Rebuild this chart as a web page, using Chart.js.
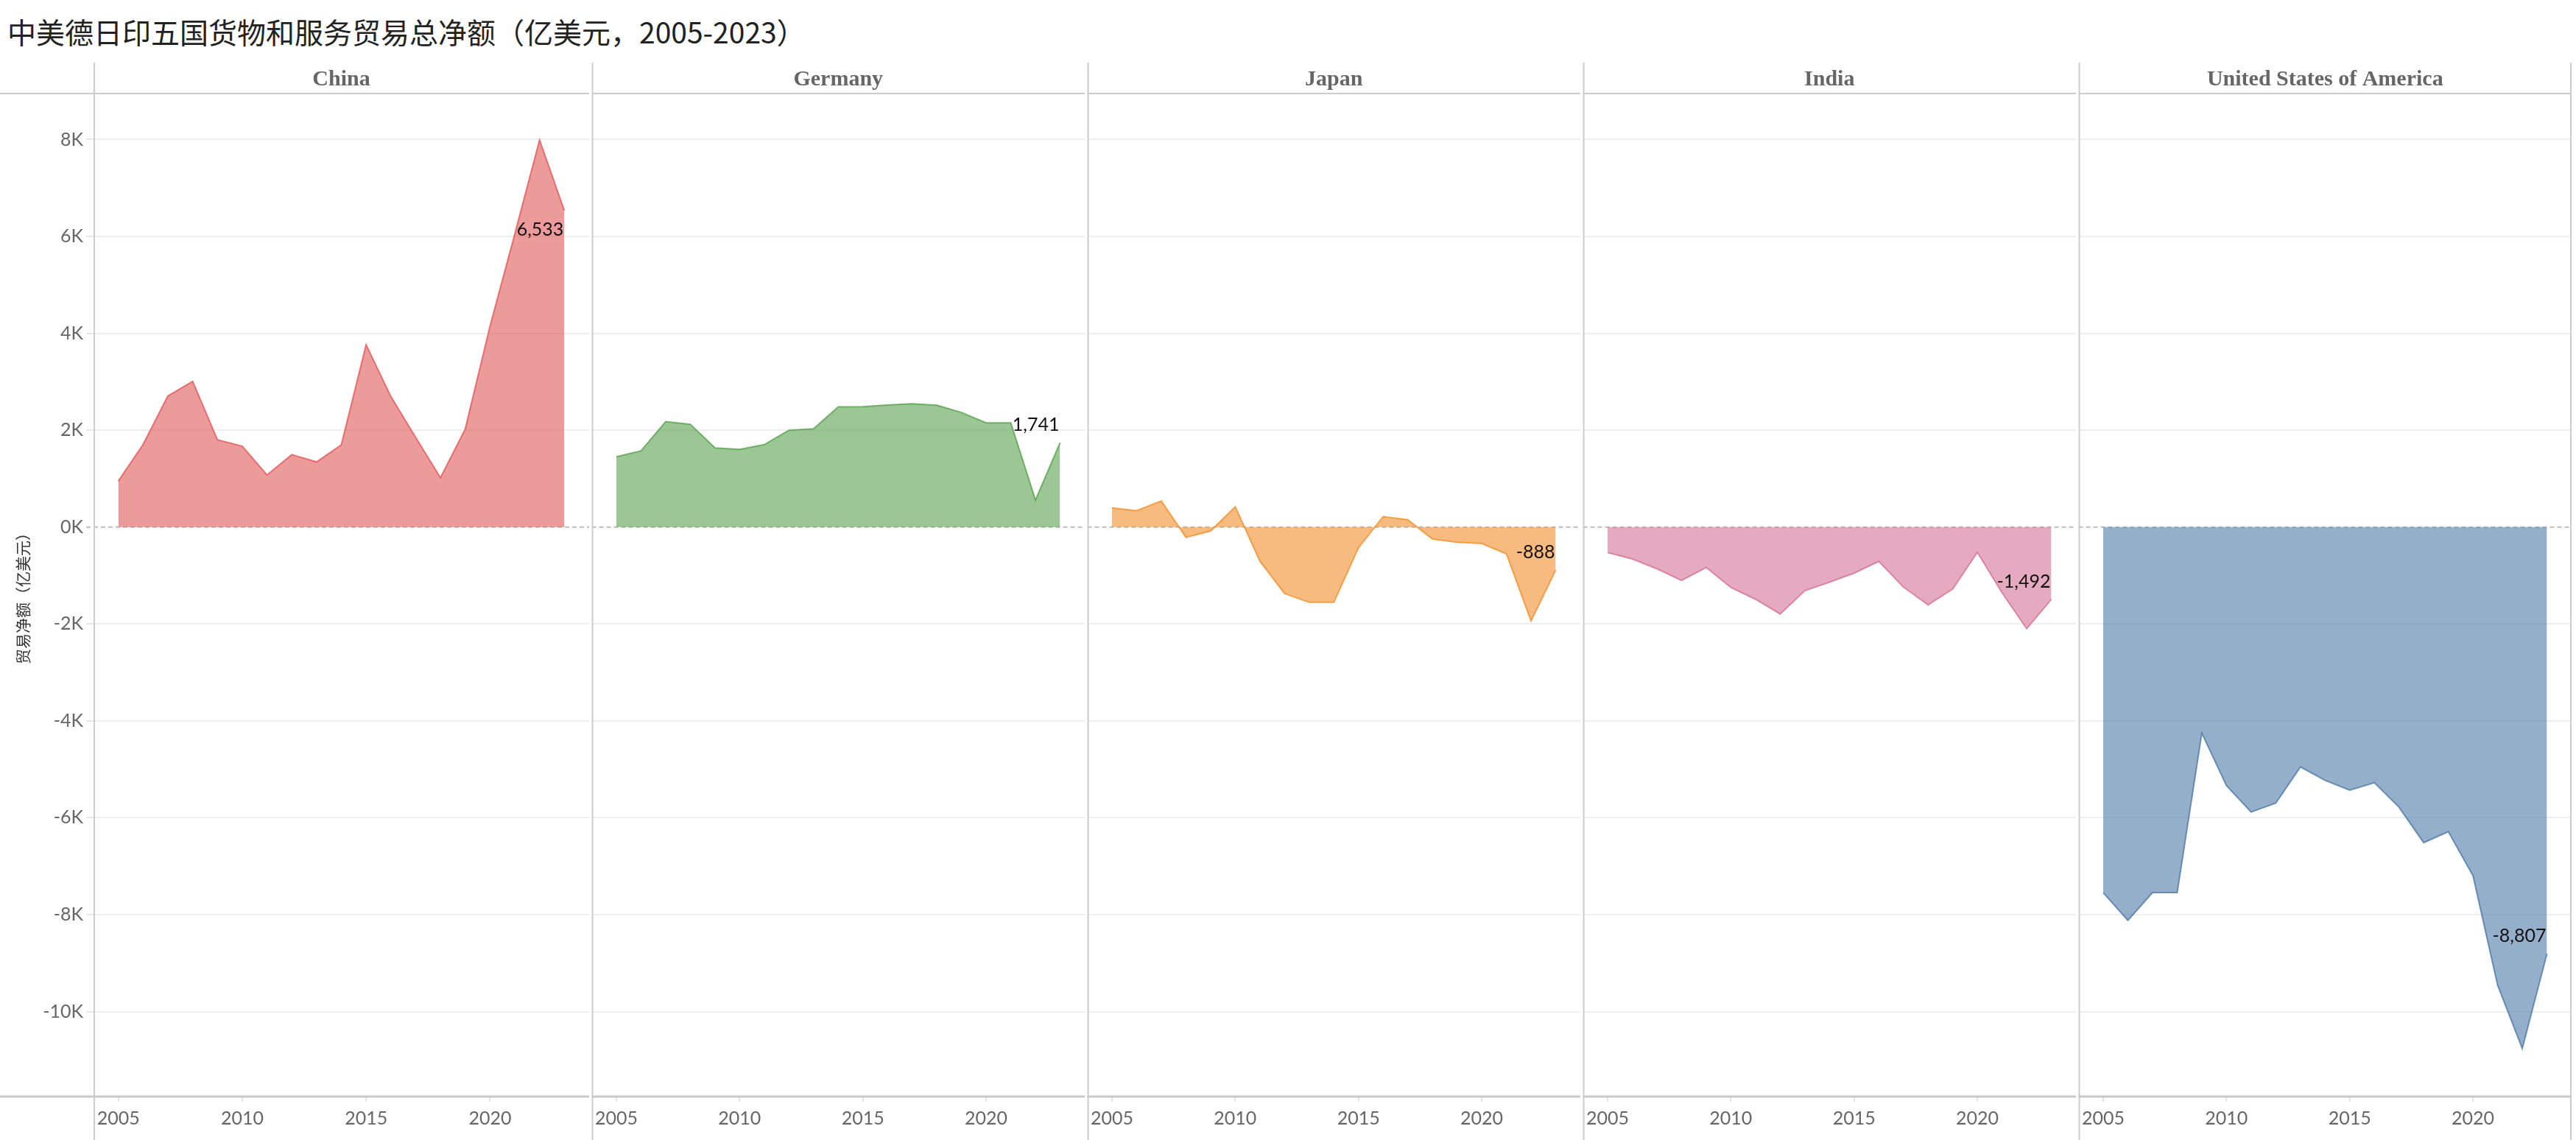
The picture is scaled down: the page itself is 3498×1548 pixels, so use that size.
<!DOCTYPE html>
<html>
<head>
<meta charset="utf-8">
<title>中美德日印五国货物和服务贸易总净额</title>
<script src="https://cdn.jsdelivr.net/npm/chart.js@4.4.1/dist/chart.umd.min.js"></script>
<style>
  body { margin: 0; background: #fff; width: 3498px; height: 1548px; overflow: hidden; position: relative; }
  #title { position: absolute; left: 10px; top: 19px; font-family: "Noto Sans CJK SC", sans-serif; font-size: 39px; line-height: 46px; color: #222; white-space: nowrap; }
  canvas { position: absolute; top: 85px; }
</style>
</head>
<body>
<div id="title">中美德日印五国货物和服务贸易总净额（亿美元，2005-2023）</div>
<canvas id="c0"></canvas>
<canvas id="c1"></canvas>
<canvas id="c2"></canvas>
<canvas id="c3"></canvas>
<canvas id="c4"></canvas>
<script>
// 数据（亿美元）
var years = [2005, 2006, 2007, 2008, 2009, 2010, 2011, 2012, 2013, 2014, 2015, 2016, 2017, 2018, 2019, 2020, 2021, 2022, 2023]
var countries = ['China', 'Germany', 'Japan', 'India', 'United States of America']
var china   = [948, 1705, 2705, 3008, 1803, 1670, 1076, 1495, 1344, 1699, 3764, 2693, 1850, 1018, 2024, 4148, 6050, 7990, 6533]
var germany = [1453, 1575, 2177, 2122, 1635, 1605, 1701, 2000, 2030, 2481, 2485, 2520, 2547, 2516, 2365, 2152, 2152, 557, 1741]
var japan   = [394, 339, 541, -212, -81, 420, -703, -1370, -1552, -1552, -425, 217, 152, -248, -313, -339, -551, -1936, -888]
var india   = [-525, -657, -859, -1101, -833, -1247, -1490, -1793, -1313, -1136, -950, -707, -1237, -1606, -1278, -520, -1354, -2096, -1492]
var usa     = [-7546, -8118, -7546, -7546, -4252, -5336, -5882, -5697, -4950, -5227, -5429, -5277, -5782, -6513, -6286, -7193, -9454, -10765, -8807]
var series = [china, germany, japan, india, usa]
var yTicks = [-10000, -8000, -6000, -4000, -2000, 0, 2000, 4000, 6000, 8000]
var xTicks = [2005, 2010, 2015, 2020]

// Tableau 配色
var palette = [[225, 87, 89], [89, 161, 79], [242, 142, 43], [211, 114, 149], [78, 121, 167]]

var PANEL_W = 673
var AXIS_W = 127
var CANVAS_H = 1463
var HEADER_H = 42
var tickFont = { family: 'Lato, "Noto Sans", sans-serif', size: 25 }

function rgba(c, a){
  return 'rgba(' + c[0] + ',' + c[1] + ',' + c[2] + ',' + a + ')'
}

// 分面框线、标题、零线和末值标签
var facetPlugin = {
  id: 'facet',
  beforeDatasetsDraw: function(chart){
    var ctx = chart.ctx, a = chart.chartArea
    var y0 = chart.scales.y.getPixelForValue(0)
    ctx.save()
    ctx.strokeStyle = '#bdbdbd'
    ctx.lineWidth = 2
    ctx.setLineDash([6, 4])
    ctx.beginPath()
    ctx.moveTo(a.left - (chart.options.plugins.facet.idx == 0 ? 10 : 0), y0)
    ctx.lineTo(a.right, y0)
    ctx.stroke()
    ctx.restore()
  },
  afterDraw: function(chart){
    var o = chart.options.plugins.facet
    var ctx = chart.ctx, a = chart.chartArea
    var x0 = o.idx == 0 ? 0 : a.left
    ctx.save()
    ctx.strokeStyle = '#cccccc'
    ctx.lineWidth = 2
    ctx.beginPath()
    ctx.moveTo(a.left + 1, 0); ctx.lineTo(a.left + 1, chart.height)
    if ( o.idx == countries.length - 1 ){
      ctx.moveTo(a.right - 1, 0); ctx.lineTo(a.right - 1, chart.height)
    }
    ctx.moveTo(x0, a.top); ctx.lineTo(a.right, a.top)
    ctx.stroke()
    ctx.lineWidth = 3
    ctx.strokeStyle = '#c8c8c8'
    ctx.beginPath()
    ctx.moveTo(x0, a.bottom + 1); ctx.lineTo(a.right, a.bottom + 1)
    ctx.stroke()

    // 国家标题
    ctx.fillStyle = '#666'
    ctx.font = 'bold 30px "Liberation Serif", "DejaVu Serif", serif'
    ctx.textAlign = 'center'
    ctx.textBaseline = 'alphabetic'
    ctx.fillText(countries[o.idx], (a.left + a.right) / 2, a.top - 11)

    // 纵轴标题
    if ( o.idx == 0 ){
      ctx.save()
      ctx.translate(31, (a.top + a.bottom) / 2)
      ctx.rotate(-Math.PI / 2)
      ctx.fillStyle = '#333'
      ctx.font = '21px "Noto Sans CJK SC", sans-serif'
      ctx.textBaseline = 'middle'
      ctx.fillText('贸易净额（亿美元）', 0, 0)
      ctx.restore()
    }

    // 末值标签
    var data = chart.data.datasets[0].data
    var pts = chart.getDatasetMeta(0).data
    var last = pts[pts.length - 1]
    var below = data[data.length - 2] > data[data.length - 1]
    ctx.fillStyle = '#111'
    ctx.font = '25px Lato, "Noto Sans", sans-serif'
    ctx.textAlign = 'right'
    ctx.textBaseline = 'middle'
    ctx.fillText(data[data.length - 1].toLocaleString('en-US'), last.x - 1, last.y + (below ? 26 : -24))
    ctx.restore()
  }
}

function makeChart(i){
  var canvas = document.getElementById('c' + i)
  var left = i == 0 ? 0 : AXIS_W + PANEL_W * i
  var width = i == 0 ? AXIS_W + PANEL_W : PANEL_W
  canvas.width = width
  canvas.height = CANVAS_H
  canvas.style.left = left + 'px'
  canvas.style.width = width + 'px'
  canvas.style.height = CANVAS_H + 'px'

  return new Chart(canvas, {
    type: 'line',
    data: {
      labels: years,
      datasets: [
        {
          label: countries[i],
          data: series[i],
          fill: 'origin',
          backgroundColor: rgba(palette[i], 0.6),
          borderColor: rgba(palette[i], 0.8),
          borderWidth: 2,
          pointRadius: 0,
          tension: 0
        }
      ]
    },
    options: {
      responsive: false,
      animation: false,
      layout: {
        padding: { top: HEADER_H, left: 0, right: 0, bottom: 0 }
      },
      plugins: {
        legend: { display: false },
        tooltip: { enabled: false },
        facet: { idx: i }
      },
      scales: {
        x: {
          type: 'linear',
          min: 2004,
          max: 2024,
          afterBuildTicks: function(scale){
            scale.ticks = xTicks.map(function(v){ return { value: v } })
          },
          afterFit: function(scale){ scale.height = 60 },
          border: { display: false },
          grid: { drawOnChartArea: false, drawTicks: true, tickLength: 8, tickColor: '#e6e6e6', lineWidth: 2 },
          ticks: {
            color: '#666',
            font: tickFont,
            padding: 8,
            maxRotation: 0,
            autoSkip: false,
            callback: function(v){ return String(v) }
          }
        },
        y: {
          min: -11740,
          max: 8950,
          afterBuildTicks: function(scale){
            scale.ticks = yTicks.map(function(v){ return { value: v } })
          },
          afterFit: function(scale){ scale.width = i == 0 ? AXIS_W : 0 },
          border: { display: false },
          grid: {
            color: function(c){ return c.tick && c.tick.value == 0 ? 'rgba(0,0,0,0)' : '#eeeeee' },
            lineWidth: 2,
            drawTicks: i == 0,
            tickLength: 10,
            tickColor: function(c){ return c.tick && c.tick.value == 0 ? 'rgba(0,0,0,0)' : '#e6e6e6' }
          },
          ticks: {
            display: i == 0,
            color: '#666',
            font: tickFont,
            padding: 4,
            callback: function(v){ return (v / 1000) + 'K' }
          }
        }
      }
    },
    plugins: [facetPlugin]
  })
}

var charts = []
for ( var i = 0; i < countries.length; i++ ){
  charts.push(makeChart(i))
}
</script>
</body>
</html>
